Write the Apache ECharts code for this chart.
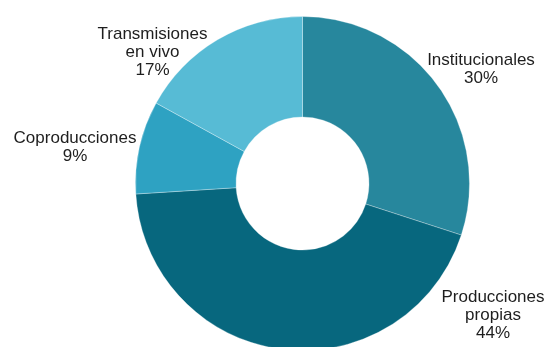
<!DOCTYPE html>
<html>
<head>
<meta charset="utf-8">
<script src="https://cdn.jsdelivr.net/npm/echarts@6/dist/echarts.min.js"></script>
<style>
html,body{margin:0;padding:0;background:#fff;}
#c{width:548px;height:347px;}
</style>
</head>
<body>
<div id="c"></div>
<script>
const categories = ['Institucionales', 'Producciones\npropias', 'Coproducciones', 'Transmisiones\nen vivo'];
const values = [30, 44, 9, 17];
const colors = ['#27879d', '#07677e', '#2ea2c2', '#57bbd5'];
// label block centres (style/layout)
const labelPos = [[481, 69], [493, 315], [75, 147], [152.5, 52]];

const chart = echarts.init(document.getElementById('c'), null, {renderer: 'canvas'});
chart.setOption({
  animation: false,
  backgroundColor: '#ffffff',
  series: [{
    type: 'pie',
    center: [302.5, 183.5],
    radius: [66.5, 167],
    startAngle: 90,
    clockwise: true,
    avoidLabelOverlap: false,
    data: categories.map((c, i) => ({name: c, value: values[i], itemStyle: {color: colors[i]}})),
    itemStyle: {borderColor: 'rgba(255,255,255,0.5)', borderWidth: 0.6},
    label: {
      show: true,
      position: 'outside',
      formatter: p => p.name + '\n' + p.value + '%',
      fontFamily: 'Liberation Sans, Arial, sans-serif',
      fontSize: 17,
      lineHeight: 18,
      color: '#1e1e1e',
      align: 'center'
    },
    labelLine: {show: false},
    labelLayout: function (p) {
      const q = labelPos[p.dataIndex];
      return {x: q[0], y: q[1], align: 'center', verticalAlign: 'middle'};
    }
  }]
});
</script>
</body>
</html>
